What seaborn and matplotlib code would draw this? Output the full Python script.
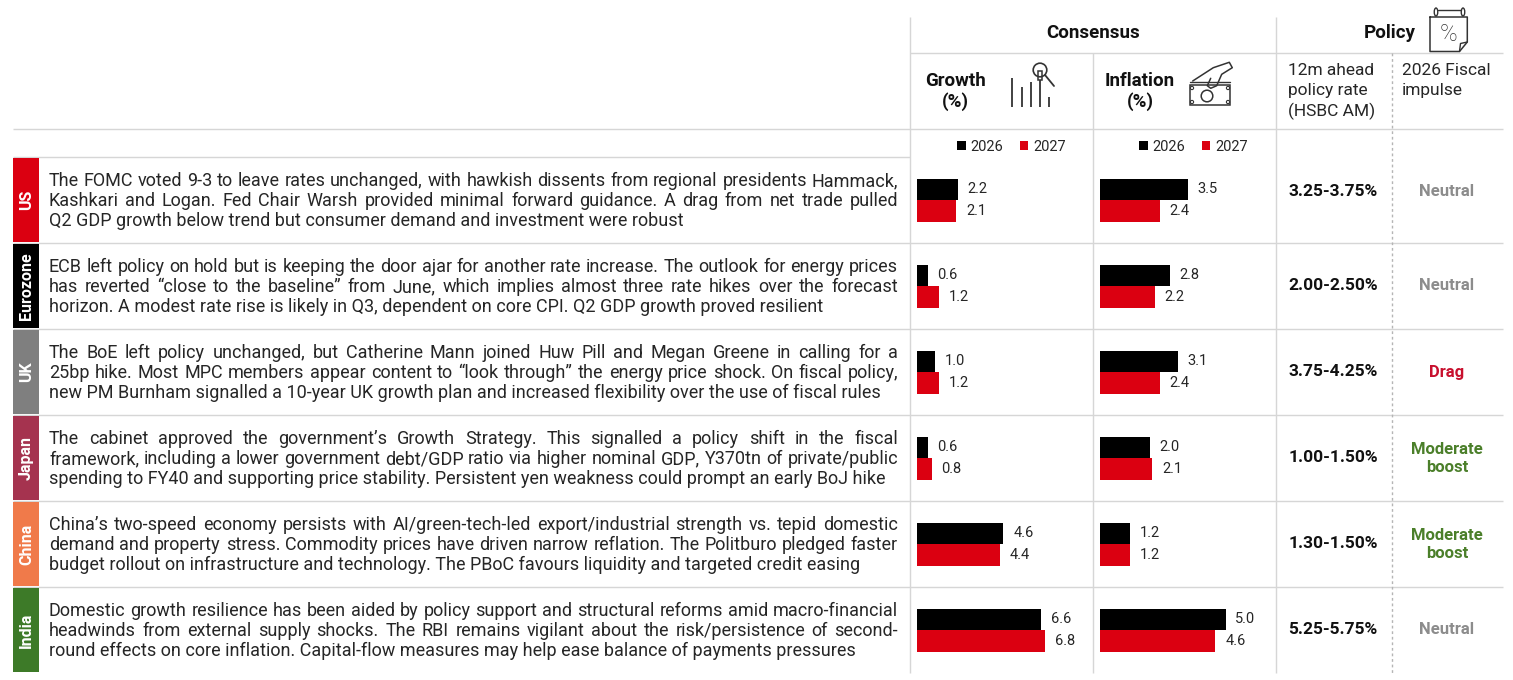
import numpy as np
import pandas as pd
import matplotlib
matplotlib.use("Agg")
import matplotlib.pyplot as plt
import seaborn as sns
from matplotlib.patches import Rectangle, Circle, Ellipse, Patch

# ---------------- data ----------------
countries = ["US", "Eurozone", "UK", "Japan", "China", "India"]
years = ["2026", "2027"]
growth_2026 = [2.2, 0.6, 1.0, 0.6, 4.6, 6.6]
growth_2027 = [2.1, 1.2, 1.2, 0.8, 4.4, 6.8]
inflation_2026 = [3.5, 2.8, 3.1, 2.0, 1.2, 5.0]
inflation_2027 = [2.4, 2.2, 2.4, 2.1, 1.2, 4.6]
policy_rate = ["3.25-3.75%", "2.00-2.50%", "3.75-4.25%", "1.00-1.50%", "1.30-1.50%", "5.25-5.75%"]
fiscal_impulse = ["Neutral", "Neutral", "Drag", "Moderate\nboost", "Moderate\nboost", "Neutral"]
commentary = [
    ["The FOMC voted 9-3 to leave rates unchanged, with hawkish dissents from regional presidents Hammack,",
     "Kashkari and Logan. Fed Chair Warsh provided minimal forward guidance. A drag from net trade pulled",
     "Q2 GDP growth below trend but consumer demand and investment were robust"],
    ["ECB left policy on hold but is keeping the door ajar for another rate increase. The outlook for energy prices",
     "has reverted \u201cclose to the baseline\u201d from June, which implies almost three rate hikes over the forecast",
     "horizon. A modest rate rise is likely in Q3, dependent on core CPI. Q2 GDP growth proved resilient"],
    ["The BoE left policy unchanged, but Catherine Mann joined Huw Pill and Megan Greene in calling for a",
     "25bp hike. Most MPC members appear content to \u201clook through\u201d the energy price shock. On fiscal policy,",
     "new PM Burnham signalled a 10-year UK growth plan and increased flexibility over the use of fiscal rules"],
    ["The cabinet approved the government\u2019s Growth Strategy. This signalled a policy shift in the fiscal",
     "framework, including a lower government debt/GDP ratio via higher nominal GDP, Y370tn of private/public",
     "spending to FY40 and supporting price stability. Persistent yen weakness could prompt an early BoJ hike"],
    ["China\u2019s two-speed economy persists with AI/green-tech-led export/industrial strength vs. tepid domestic",
     "demand and property stress. Commodity prices have driven narrow reflation. The Politburo pledged faster",
     "budget rollout on infrastructure and technology. The PBoC favours liquidity and targeted credit easing"],
    ["Domestic growth resilience has been aided by policy support and structural reforms amid macro-financial",
     "headwinds from external supply shocks. The RBI remains vigilant about the risk/persistence of second-",
     "round effects on core inflation. Capital-flow measures may help ease balance of payments pressures"],
]

# ---------------- style ----------------
RED = "#db0011"
BLACK = "#000000"
country_colors = ["#db0011", "#000000", "#7f7f7f", "#a5334f", "#f07a4a", "#3d7a28"]
fiscal_colors = {"Neutral": "#8c8c8c", "Drag": "#c8102e", "Moderate\nboost": "#4b7f2a"}
GRID = "#d6d6d6"
TXT = "#262626"

sns.set_style("white")
plt.rcParams["font.family"] = ["Roboto", "DejaVu Sans"]

W, H = 1513, 680
fig = plt.figure(figsize=(W / 100, H / 100), dpi=100)
ax0 = fig.add_axes([0, 0, 1, 1])
ax0.set_xlim(0, W)
ax0.set_ylim(H, 0)
ax0.axis("off")


def px_axes(x0, y0, x1, y1):
    return fig.add_axes([x0 / W, 1 - y1 / H, (x1 - x0) / W, (y1 - y0) / H])


ROW_TOP = 157
ROW_H = 86
ROW_BOT = ROW_TOP + ROW_H * len(countries)

# ---------------- grid lines ----------------
def hline(y, x0, x1):
    ax0.plot([x0, x1], [y, y], color=GRID, lw=1, solid_capstyle="butt", zorder=1)


def vline(x, y0, y1):
    ax0.plot([x, x], [y0, y1], color=GRID, lw=1, solid_capstyle="butt", zorder=1)


hline(52.5, 910, 1503)
hline(128.5, 13, 1503)
hline(ROW_TOP, 13, 910)
for i in range(1, len(countries)):
    hline(ROW_TOP + i * ROW_H, 13, 1503)
vline(910, 17, ROW_BOT)
vline(1275.5, 17, ROW_BOT)
vline(1093, 52.5, ROW_BOT)
ax0.plot([1391.5, 1391.5], [52.5, ROW_BOT], color="#b5b5b5", lw=1,
         dashes=(2, 2), zorder=1)

# ---------------- country bars ----------------
for i, (c, col) in enumerate(zip(countries, country_colors)):
    top = ROW_TOP + i * ROW_H
    ax0.add_patch(Rectangle((13, top + 0.5), 26, ROW_H - 1.5, color=col, lw=0, zorder=3))
    ax0.text(26.5, top + ROW_H / 2, c, rotation=90, ha="center", va="center",
             color="white", fontsize=11.5, fontweight="bold", zorder=4)

# ---------------- commentary (justified) ----------------
renderer = fig.canvas.get_renderer()


def tw(s, size, weight="normal"):
    t = ax0.text(0, 0, s, fontsize=size, fontweight=weight)
    w = t.get_window_extent(renderer=renderer).width
    t.remove()
    return w


base = 12.0
refs = [(commentary[0][2], 639), (commentary[2][2], 832), (commentary[3][2], 832)]
fs = 1.012 * base * sum(t for _, t in refs) / sum(tw(s, base) for s, _ in refs)
maxnat = max(tw(l, fs) for c in commentary for l in c[:2])
if maxnat > 847:
    fs *= 847 / maxnat

X_L, X_R = 49, 898
for i, lines in enumerate(commentary):
    top = ROW_TOP + i * ROW_H
    for j, line in enumerate(lines):
        yb = top + 29.5 + j * 20.0
        if j == len(lines) - 1:
            ax0.text(X_L, yb, line, fontsize=fs, color=TXT, va="baseline", ha="left")
            continue
        words = line.split(" ")
        widths = [tw(w_, fs) for w_ in words]
        gap = (X_R - X_L - sum(widths)) / (len(words) - 1)
        x = X_L
        for w_, wd in zip(words, widths):
            ax0.text(x, yb, w_, fontsize=fs, color=TXT, va="baseline", ha="left")
            x += wd + gap

# ---------------- bars via seaborn ----------------
df = pd.DataFrame({
    "country": countries * 2,
    "year": [years[0]] * len(countries) + [years[1]] * len(countries),
    "growth": growth_2026 + growth_2027,
    "inflation": inflation_2026 + inflation_2027,
})

GROWTH_PX_PER_UNIT = 18.9
INFL_PX_PER_UNIT = 25.2
specs = [("growth", 916.5, 1090, GROWTH_PX_PER_UNIT, 1011.5),
         ("inflation", 1099.5, 1274, INFL_PX_PER_UNIT, 1193.5)]
for col, x0, x1, ppu, leg_cx in specs:
    ax = px_axes(x0, ROW_TOP, x1, ROW_BOT)
    sns.barplot(data=df, y="country", x=col, hue="year", order=countries,
                hue_order=years, palette=[BLACK, RED], width=0.5, saturation=1,
                linewidth=0, errorbar=None, orient="h", legend=False, ax=ax)
    ax.set_xlim(0, (x1 - x0) / ppu)
    ax.set_ylim(len(countries) - 0.5, -0.5)
    for cont in ax.containers:
        ax.bar_label(cont, fmt="%.1f", padding=7, fontsize=10.5, color=TXT)
    ax.axis("off")
    ax.patch.set_alpha(0)
    handles = [Patch(facecolor=BLACK, edgecolor="none"), Patch(facecolor=RED, edgecolor="none")]
    ax.legend(handles, years, loc="center", bbox_to_anchor=(leg_cx / W, 1 - 147 / H),
              bbox_transform=fig.transFigure, ncol=2, frameon=False, fontsize=10.5,
              handlelength=0.6, handleheight=0.6, handletextpad=0.35,
              columnspacing=1.1, borderpad=0, borderaxespad=0, labelcolor=TXT)

# ---------------- policy columns ----------------
for i in range(len(countries)):
    cy = ROW_TOP + i * ROW_H + ROW_H / 2
    if i == 0:
        cy -= 9  # first cell is open to the legend band above
    ax0.text(1333, cy, policy_rate[i], ha="center", va="center", fontsize=12.5,
             fontweight="bold", color="#111111")
    ax0.text(1447, cy, fiscal_impulse[i], ha="center", va="center", fontsize=12,
             fontweight="bold", color=fiscal_colors[fiscal_impulse[i]], linespacing=1.25)

# ---------------- headers ----------------
HDR = "#111111"
ax0.text(1093, 38, "Consensus", ha="center", va="baseline", fontsize=13.5, fontweight="bold", color=HDR)
ax0.text(1416, 38, "Policy", ha="right", va="baseline", fontsize=13.5, fontweight="bold", color=HDR)
ax0.text(955, 86, "Growth", ha="center", va="baseline", fontsize=13.5, fontweight="bold", color=HDR)
ax0.text(955, 106.5, "(%)", ha="center", va="baseline", fontsize=13.5, fontweight="bold", color=HDR)
ax0.text(1140, 86, "Inflation", ha="center", va="baseline", fontsize=13.5, fontweight="bold", color=HDR)
ax0.text(1140, 106.5, "(%)", ha="center", va="baseline", fontsize=13.5, fontweight="bold", color=HDR)
for j, s in enumerate(["12m ahead", "policy rate", "(HSBC AM)"]):
    ax0.text(1288, 75 + j * 20.5, s, ha="left", va="baseline", fontsize=12.5, color=TXT)
for j, s in enumerate(["2026 Fiscal", "impulse"]):
    ax0.text(1402, 75 + j * 20.5, s, ha="left", va="baseline", fontsize=12.5, color=TXT)

# ---------------- icons ----------------
IC = "#333333"
# growth icon: bars + magnifier
for x, t in zip([1011.7, 1021.7, 1031.0, 1040.0, 1049.3], [77.7, 86.7, 81.7, 80.0, 96.7]):
    ax0.plot([x, x], [106.7, t], color=IC, lw=1.3, solid_capstyle="butt")
ax0.add_patch(Rectangle((1038, 70.5), 4, 9.5, fill=False, ec=IC, lw=1.1))
ax0.add_patch(Circle((1040, 70), 6.8, fill=False, ec=IC, lw=1.2))
ax0.plot([1045, 1054], [75, 86], color=IC, lw=1.3)
# inflation icon: hand + banknote
ax0.add_patch(Rectangle((1190, 85), 40, 20, fill=False, ec=IC, lw=1.1))
ax0.add_patch(Circle((1207, 96), 5.8, fill=False, ec=IC, lw=1.1))
ax0.plot([1190, 1230], [82, 82], color=IC, lw=1.0)
hand = np.array([(1192.7, 81), (1213.3, 67.7), (1229.3, 62.3), (1232.3, 67.7),
                 (1221.7, 74.3), (1216.7, 85.7), (1210.7, 88.3), (1207.3, 85.7),
                 (1210.7, 78.3)])
ax0.plot(hand[:, 0], hand[:, 1], color=IC, lw=1.1, solid_joinstyle="round")
for (cx_, cy_) in [(1192, 88), (1228, 88), (1192, 102), (1228, 102)]:
    ax0.add_patch(Circle((cx_, cy_), 1.6, fill=False, ec=IC, lw=0.8))
# policy icon: calendar with percent
cal = np.array([(1430, 17), (1467.3, 17), (1467.3, 42), (1459.5, 51.5), (1430, 51.5), (1430, 17)])
ax0.plot(cal[:, 0], cal[:, 1], color=IC, lw=1.1)
ax0.plot([1467.3, 1460.5, 1459.5], [42, 43.5, 51.5], color=IC, lw=1.0)
for x in [1436, 1463]:
    ax0.add_patch(Ellipse((x, 12), 3.5, 8, fill=False, ec=IC, lw=1.0))
ax0.plot([1438, 1461], [10, 10], color=IC, lw=1.0)
ax0.text(1448.5, 34.5, "%", ha="center", va="center", fontsize=17, color=IC, fontweight="light")

fig.savefig("out.png", dpi=100)
